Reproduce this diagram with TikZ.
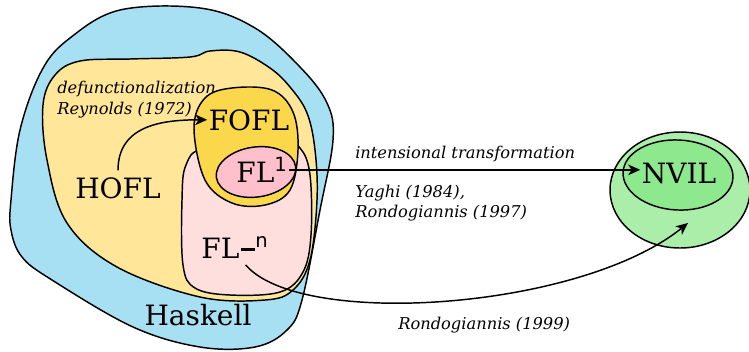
\documentclass[tikz,border=0pt]{standalone}
\usepackage{fontspec}
\setmainfont{DejaVu Serif}
\setsansfont{DejaVu Sans}
\usetikzlibrary{arrows.meta}

\definecolor{haskellblue}{HTML}{A8E0F3}
\definecolor{hoflyellow}{HTML}{FFE699}
\definecolor{foflyellow}{HTML}{FBD84B}
\definecolor{flonepink}{HTML}{FFC0CC}
\definecolor{flnpink}{HTML}{FFDEDE}
\definecolor{nviloutgreen}{HTML}{AAEEAA}
\definecolor{nvilingreen}{HTML}{8EE88E}

\begin{document}
\begin{tikzpicture}[x=0.75pt, y=-0.75pt,
  region/.style={draw, line width=1.1pt},
  big/.style={font=\fontsize{21}{24}\selectfont, inner sep=1pt},
  note/.style={font=\itshape\fontsize{12.2}{15}\selectfont, align=left, inner sep=0pt},
  arr/.style={-{Stealth[length=9pt, width=8pt, inset=2.5pt]}, line width=1.1pt}
]
\useasboundingbox (0,0) rectangle (749,351);
% language regions
\draw[region, fill=haskellblue] plot[smooth cycle, tension=0.6] coordinates {
  (11,200) (20,130) (42,70) (70,38) (120,10) (200,8) (255,28) (300,67)
  (327,103) (333,140) (320,210) (302,300) (287,330) (255,347) (200,347)
  (133,327) (52,280) (22,257) (11,230)};
\draw[region, fill=hoflyellow] plot[smooth cycle, tension=0.6] coordinates {
  (43,105) (55,75) (80,61) (130,59) (190,57) (210,51) (240,52) (270,68)
  (290,87) (307,113) (315,150) (317,200) (310,260) (293,290) (265,300)
  (200,297) (117,267) (67,223) (47,160)};
\draw[region, fill=flnpink] plot[smooth cycle, tension=0.6] coordinates {
  (182,200) (186,165) (205,148) (280,140) (300,148) (310,175) (311,235)
  (303,272) (280,292) (230,295) (195,288) (183,265)};
\draw[region, fill=foflyellow] plot[smooth cycle, tension=0.6] coordinates {
  (194,128) (205,98) (232,88) (272,90) (293,112) (298,150) (290,190)
  (265,205) (232,203) (205,180)};
\draw[region, fill=flonepink] (256,172) ellipse [x radius=40, y radius=25, rotate=8];
\draw[region, fill=nviloutgreen] (680,190) ellipse [x radius=70, y radius=58];
\draw[region, fill=nvilingreen] (678,175) ellipse [x radius=55, y radius=35, rotate=-3];
% labels
\node[big, anchor=base] (hofl) at (118,198) {HOFL};
\node[big, anchor=base] (fofl) at (249,130) {FOFL};
\node[big, anchor=base] (fl1) at (262,182) {FL\textsuperscript{\sffamily 1}};
\node[big, anchor=base] (fln) at (235,258) {FL\kern1pt\rule[5pt]{11pt}{2.3pt}\textsuperscript{\sffamily n}};
\node[big, anchor=base] (haskell) at (198,325) {Haskell};
\node[big, anchor=base] (nvil) at (679,183) {NVIL};
\node[note, anchor=north west] (defun) at (57,81) {defunctionalization\\[1pt]Reynolds (1972)};
\node[note, anchor=base west] (intens) at (355,158) {intensional transformation};
\node[note, anchor=north west] (yaghi) at (355,185) {Yaghi (1984),\\Rondogiannis (1997)};
\node[note, anchor=base west] (rondo) at (398,329) {Rondogiannis (1999)};
\coordinate (nvilin) at (688,223);
% transformations
\draw[arr] ([yshift=4pt]hofl.north) .. controls +(0,-45) and +(-45,0) .. (fofl.west);
\draw[arr] (fl1.east) -- (fl1.east -| nvil.west);
\draw[arr] ([xshift=8pt, yshift=-4pt]fln.south) .. controls +(55,64) and +(-108,87) .. (nvilin);
\end{tikzpicture}
\end{document}
